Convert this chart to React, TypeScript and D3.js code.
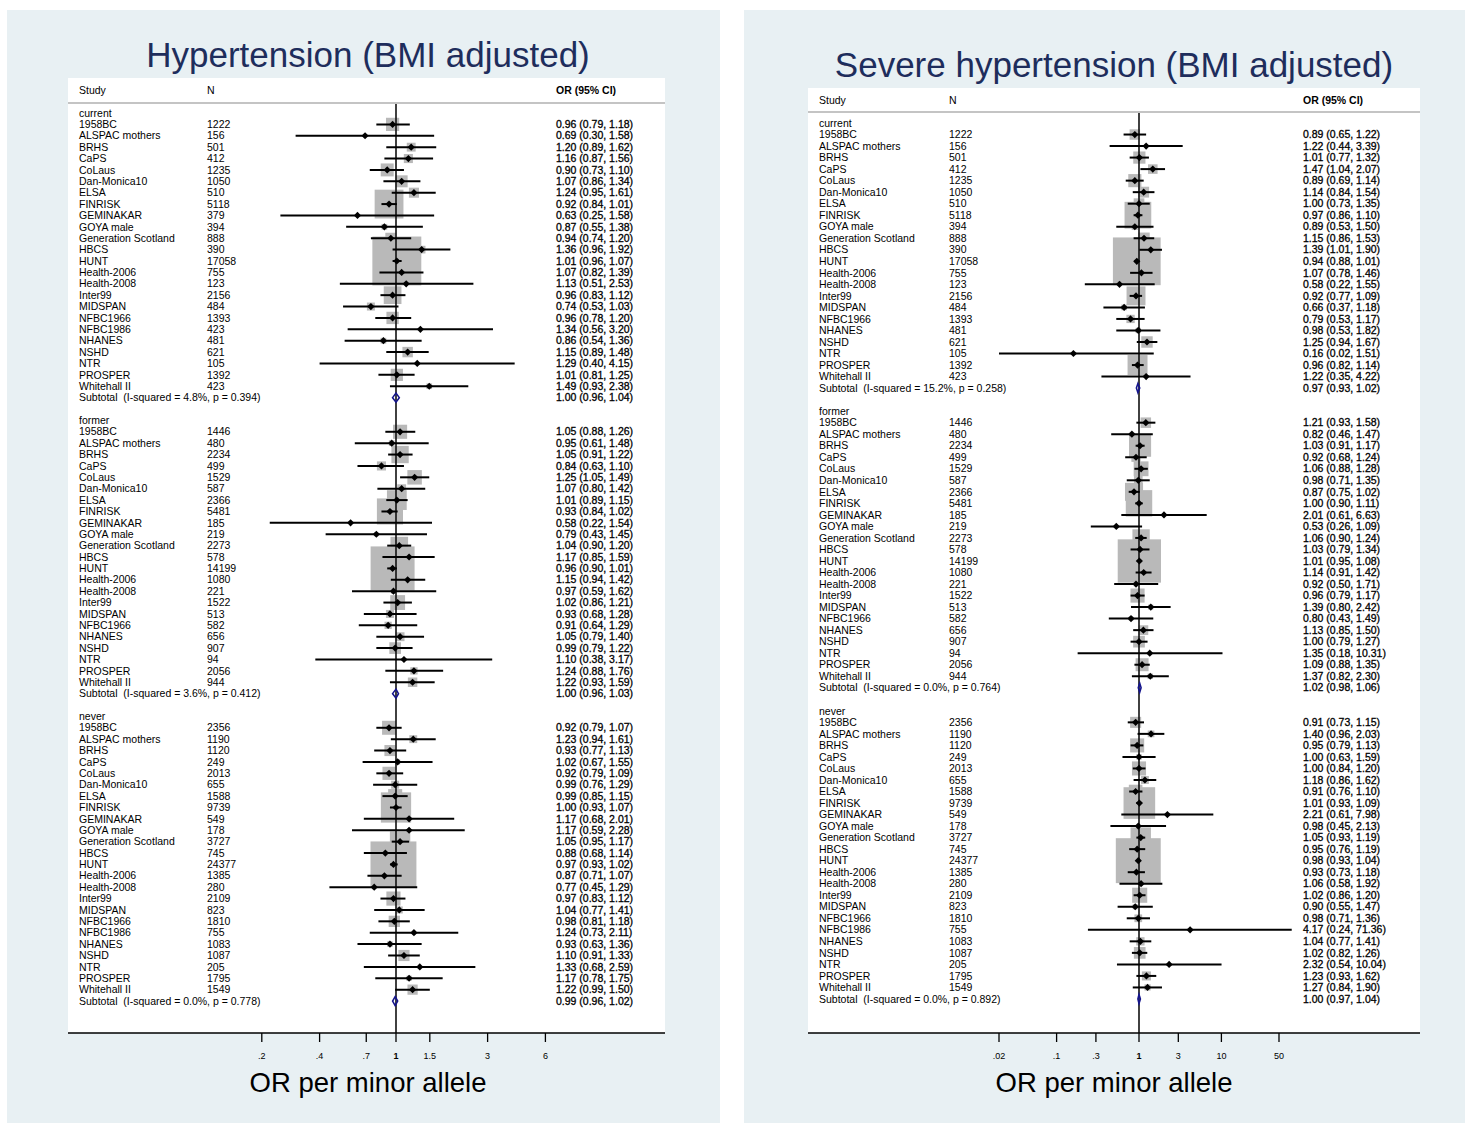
import React from "react";
import * as d3 from "d3";

// ---------- Study name lists ----------
const studiesCurrent = ["1958BC", "ALSPAC mothers", "BRHS", "CaPS", "CoLaus", "Dan-Monica10", "ELSA", "FINRISK", "GEMINAKAR", "GOYA male", "Generation Scotland", "HBCS", "HUNT", "Health-2006", "Health-2008", "Inter99", "MIDSPAN", "NFBC1966", "NFBC1986", "NHANES", "NSHD", "NTR", "PROSPER", "Whitehall II"];
const studiesFormer = ["1958BC", "ALSPAC mothers", "BRHS", "CaPS", "CoLaus", "Dan-Monica10", "ELSA", "FINRISK", "GEMINAKAR", "GOYA male", "Generation Scotland", "HBCS", "HUNT", "Health-2006", "Health-2008", "Inter99", "MIDSPAN", "NFBC1966", "NHANES", "NSHD", "NTR", "PROSPER", "Whitehall II"];
const studiesNever = ["1958BC", "ALSPAC mothers", "BRHS", "CaPS", "CoLaus", "Dan-Monica10", "ELSA", "FINRISK", "GEMINAKAR", "GOYA male", "Generation Scotland", "HBCS", "HUNT", "Health-2006", "Health-2008", "Inter99", "MIDSPAN", "NFBC1966", "NFBC1986", "NHANES", "NSHD", "NTR", "PROSPER", "Whitehall II"];
const studiesSevereCurrent = ["1958BC", "ALSPAC mothers", "BRHS", "CaPS", "CoLaus", "Dan-Monica10", "ELSA", "FINRISK", "GOYA male", "Generation Scotland", "HBCS", "HUNT", "Health-2006", "Health-2008", "Inter99", "MIDSPAN", "NFBC1966", "NHANES", "NSHD", "NTR", "PROSPER", "Whitehall II"];

const groupLabels = ["current", "former", "never"];

// ---------- Hypertension (BMI adjusted) ----------
const hypCurrentN = [1222, 156, 501, 412, 1235, 1050, 510, 5118, 379, 394, 888, 390, 17058, 755, 123, 2156, 484, 1393, 423, 481, 621, 105, 1392, 423];
const hypCurrentOR = [0.96, 0.69, 1.20, 1.16, 0.90, 1.07, 1.24, 0.92, 0.63, 0.87, 0.94, 1.36, 1.01, 1.07, 1.13, 0.96, 0.74, 0.96, 1.34, 0.86, 1.15, 1.29, 1.01, 1.49];
const hypCurrentLo = [0.79, 0.30, 0.89, 0.87, 0.73, 0.86, 0.95, 0.84, 0.25, 0.55, 0.74, 0.96, 0.96, 0.82, 0.51, 0.83, 0.53, 0.78, 0.56, 0.54, 0.89, 0.40, 0.81, 0.93];
const hypCurrentHi = [1.18, 1.58, 1.62, 1.56, 1.10, 1.34, 1.61, 1.01, 1.58, 1.38, 1.20, 1.92, 1.07, 1.39, 2.53, 1.12, 1.03, 1.20, 3.20, 1.36, 1.48, 4.15, 1.25, 2.38];

const hypFormerN = [1446, 480, 2234, 499, 1529, 587, 2366, 5481, 185, 219, 2273, 578, 14199, 1080, 221, 1522, 513, 582, 656, 907, 94, 2056, 944];
const hypFormerOR = [1.05, 0.95, 1.05, 0.84, 1.25, 1.07, 1.01, 0.93, 0.58, 0.79, 1.04, 1.17, 0.96, 1.15, 0.97, 1.02, 0.93, 0.91, 1.05, 0.99, 1.10, 1.24, 1.22];
const hypFormerLo = [0.88, 0.61, 0.91, 0.63, 1.05, 0.80, 0.89, 0.84, 0.22, 0.43, 0.90, 0.85, 0.90, 0.94, 0.59, 0.86, 0.68, 0.64, 0.79, 0.79, 0.38, 0.88, 0.93];
const hypFormerHi = [1.26, 1.48, 1.22, 1.10, 1.49, 1.42, 1.15, 1.02, 1.54, 1.45, 1.20, 1.59, 1.01, 1.42, 1.62, 1.21, 1.28, 1.29, 1.40, 1.22, 3.17, 1.76, 1.59];

const hypNeverN = [2356, 1190, 1120, 249, 2013, 655, 1588, 9739, 549, 178, 3727, 745, 24377, 1385, 280, 2109, 823, 1810, 755, 1083, 1087, 205, 1795, 1549];
const hypNeverOR = [0.92, 1.23, 0.93, 1.02, 0.92, 0.99, 0.99, 1.00, 1.17, 1.17, 1.05, 0.88, 0.97, 0.87, 0.77, 0.97, 1.04, 0.98, 1.24, 0.93, 1.10, 1.33, 1.17, 1.22];
const hypNeverLo = [0.79, 0.94, 0.77, 0.67, 0.79, 0.76, 0.85, 0.93, 0.68, 0.59, 0.95, 0.68, 0.93, 0.71, 0.45, 0.83, 0.77, 0.81, 0.73, 0.63, 0.91, 0.68, 0.78, 0.99];
const hypNeverHi = [1.07, 1.61, 1.13, 1.55, 1.09, 1.29, 1.15, 1.07, 2.01, 2.28, 1.17, 1.14, 1.02, 1.07, 1.29, 1.12, 1.41, 1.18, 2.11, 1.36, 1.33, 2.59, 1.75, 1.50];

const hypSubOR = [1.00, 1.00, 0.99];
const hypSubLo = [0.96, 0.96, 0.96];
const hypSubHi = [1.04, 1.03, 1.02];
const hypSubLabel = ["Subtotal  (I-squared = 4.8%, p = 0.394)", "Subtotal  (I-squared = 3.6%, p = 0.412)", "Subtotal  (I-squared = 0.0%, p = 0.778)"];

// ---------- Severe hypertension (BMI adjusted) ----------
const sevCurrentN = [1222, 156, 501, 412, 1235, 1050, 510, 5118, 394, 888, 390, 17058, 755, 123, 2156, 484, 1393, 481, 621, 105, 1392, 423];
const sevCurrentOR = [0.89, 1.22, 1.01, 1.47, 0.89, 1.14, 1.00, 0.97, 0.89, 1.15, 1.39, 0.94, 1.07, 0.58, 0.92, 0.66, 0.79, 0.98, 1.25, 0.16, 0.96, 1.22];
const sevCurrentLo = [0.65, 0.44, 0.77, 1.04, 0.69, 0.84, 0.73, 0.86, 0.53, 0.86, 1.01, 0.88, 0.78, 0.22, 0.77, 0.37, 0.53, 0.53, 0.94, 0.02, 0.82, 0.35];
const sevCurrentHi = [1.22, 3.39, 1.32, 2.07, 1.14, 1.54, 1.35, 1.10, 1.50, 1.53, 1.90, 1.01, 1.46, 1.55, 1.09, 1.18, 1.17, 1.82, 1.67, 1.51, 1.14, 4.22];

const sevFormerN = [1446, 480, 2234, 499, 1529, 587, 2366, 5481, 185, 219, 2273, 578, 14199, 1080, 221, 1522, 513, 582, 656, 907, 94, 2056, 944];
const sevFormerOR = [1.21, 0.82, 1.03, 0.92, 1.06, 0.98, 0.87, 1.00, 2.01, 0.53, 1.06, 1.03, 1.01, 1.14, 0.92, 0.96, 1.39, 0.80, 1.13, 1.00, 1.35, 1.09, 1.37];
const sevFormerLo = [0.93, 0.46, 0.91, 0.68, 0.88, 0.71, 0.75, 0.90, 0.61, 0.26, 0.90, 0.79, 0.95, 0.91, 0.50, 0.79, 0.80, 0.43, 0.85, 0.79, 0.18, 0.88, 0.82];
const sevFormerHi = [1.58, 1.47, 1.17, 1.24, 1.28, 1.35, 1.02, 1.11, 6.63, 1.09, 1.24, 1.34, 1.08, 1.42, 1.71, 1.17, 2.42, 1.49, 1.50, 1.27, 10.31, 1.35, 2.30];

const sevNeverN = [2356, 1190, 1120, 249, 2013, 655, 1588, 9739, 549, 178, 3727, 745, 24377, 1385, 280, 2109, 823, 1810, 755, 1083, 1087, 205, 1795, 1549];
const sevNeverOR = [0.91, 1.40, 0.95, 1.00, 1.00, 1.18, 0.91, 1.01, 2.21, 0.98, 1.05, 0.95, 0.98, 0.93, 1.06, 1.02, 0.90, 0.98, 4.17, 1.04, 1.02, 2.32, 1.23, 1.27];
const sevNeverLo = [0.73, 0.96, 0.79, 0.63, 0.84, 0.86, 0.76, 0.93, 0.61, 0.45, 0.93, 0.76, 0.93, 0.73, 0.58, 0.86, 0.55, 0.71, 0.24, 0.77, 0.82, 0.54, 0.93, 0.84];
const sevNeverHi = [1.15, 2.03, 1.13, 1.59, 1.20, 1.62, 1.10, 1.09, 7.98, 2.13, 1.19, 1.19, 1.04, 1.18, 1.92, 1.20, 1.47, 1.36, 71.36, 1.41, 1.26, 10.04, 1.62, 1.90];

const sevSubOR = [0.97, 1.02, 1.00];
const sevSubLo = [0.93, 0.98, 0.97];
const sevSubHi = [1.02, 1.06, 1.04];
const sevSubLabel = ["Subtotal  (I-squared = 15.2%, p = 0.258)", "Subtotal  (I-squared = 0.0%, p = 0.764)", "Subtotal  (I-squared = 0.0%, p = 0.892)"];

// ---------- Axis ticks ----------
const hypTicks = [0.2, 0.4, 0.7, 1, 1.5, 3, 6];
const hypTickLabels = [".2", ".4", ".7", "1", "1.5", "3", "6"];
const sevTicks = [0.02, 0.1, 0.3, 1, 3, 10, 50];
const sevTickLabels = [".02", ".1", ".3", "1", "3", "10", "50"];

type Group = {
  label: string;
  names: string[];
  n: number[];
  or: number[];
  lo: number[];
  hi: number[];
  subOR: number;
  subLo: number;
  subHi: number;
  subLabel: string;
};

function makeGroups(
  namesList: string[][],
  ns: number[][],
  ors: number[][],
  los: number[][],
  his: number[][],
  sOR: number[],
  sLo: number[],
  sHi: number[],
  sLab: string[]
): Group[] {
  return groupLabels.map((label, i) => ({
    label,
    names: namesList[i],
    n: ns[i],
    or: ors[i],
    lo: los[i],
    hi: his[i],
    subOR: sOR[i],
    subLo: sLo[i],
    subHi: sHi[i],
    subLabel: sLab[i],
  }));
}

const hypGroups = makeGroups(
  [studiesCurrent, studiesFormer, studiesNever],
  [hypCurrentN, hypFormerN, hypNeverN],
  [hypCurrentOR, hypFormerOR, hypNeverOR],
  [hypCurrentLo, hypFormerLo, hypNeverLo],
  [hypCurrentHi, hypFormerHi, hypNeverHi],
  hypSubOR, hypSubLo, hypSubHi, hypSubLabel
);
const sevGroups = makeGroups(
  [studiesSevereCurrent, studiesFormer, studiesNever],
  [sevCurrentN, sevFormerN, sevNeverN],
  [sevCurrentOR, sevFormerOR, sevNeverOR],
  [sevCurrentLo, sevFormerLo, sevNeverLo],
  [sevCurrentHi, sevFormerHi, sevNeverHi],
  sevSubOR, sevSubLo, sevSubHi, sevSubLabel
);

const FONT = "'Liberation Sans', Arial, Helvetica, sans-serif";
const BG = "#e8f0f3";
const TITLE_COLOR = "#1e2d5c";
const BOX_COLOR = "#b9b9b9";
const SUB_COLOR = "#14148c";

type PanelCfg = {
  title: string;
  titleX: number;
  titleY: number;
  bgX: number;
  bgW: number;
  x0: number;
  x1: number;
  plotTop: number;
  axisY: number;
  headerY: number;
  headerLineY: number;
  row0Y: number;
  rowStep: number;
  studyX: number;
  nX: number;
  orX: number;
  oneX: number;
  pxPerDecade: number;
  ticks: number[];
  tickLabels: string[];
  clipMax: number;
};

const fmt = (v: number) => v.toFixed(2);

function Panel({ cfg, groups }: { cfg: PanelCfg; groups: Group[] }) {
  const x = d3
    .scaleLog()
    .domain([0.01, 100])
    .range([cfg.oneX - 2 * cfg.pxPerDecade, cfg.oneX + 2 * cfg.pxPerDecade]);

  // Build the row layout
  type Row =
    | { kind: "label"; text: string; r: number }
    | { kind: "study"; name: string; n: number; or: number; lo: number; hi: number; size: number; r: number }
    | { kind: "sub"; text: string; or: number; lo: number; hi: number; r: number };
  const rows: Row[] = [];
  let r = 0;
  const BOX_K = 72;
  groups.forEach((g) => {
    rows.push({ kind: "label", text: g.label, r: r++ });
    const w = g.or.map((_, i) => {
      const se = (Math.log(g.hi[i]) - Math.log(g.lo[i])) / 3.92;
      return 1 / (se * se);
    });
    const W = d3.sum(w);
    g.names.forEach((name, i) => {
      rows.push({
        kind: "study",
        name,
        n: g.n[i],
        or: g.or[i],
        lo: g.lo[i],
        hi: g.hi[i],
        size: BOX_K * Math.sqrt(w[i] / W),
        r: r++,
      });
    });
    rows.push({ kind: "sub", text: g.subLabel, or: g.subOR, lo: g.subLo, hi: g.subHi, r: r++ });
    r++; // blank row
  });

  const y = d3.scaleLinear().domain([0, 1]).range([cfg.row0Y, cfg.row0Y + cfg.rowStep]);
  const fs = 10.5;

  return (
    <g>
      <rect x={cfg.bgX} y={10} width={cfg.bgW} height={1113} fill={BG} />
      <rect x={cfg.x0} y={cfg.plotTop} width={cfg.x1 - cfg.x0} height={cfg.axisY - cfg.plotTop} fill="#fff" />
      <text x={cfg.titleX} y={cfg.titleY} textAnchor="middle" fontFamily={FONT} fontSize={35} fill={TITLE_COLOR}>
        {cfg.title}
      </text>
      {/* header */}
      <text x={cfg.studyX} y={cfg.headerY} dy="0.35em" fontFamily={FONT} fontSize={fs}>Study</text>
      <text x={cfg.nX} y={cfg.headerY} dy="0.35em" fontFamily={FONT} fontSize={fs}>N</text>
      <text x={cfg.orX} y={cfg.headerY} dy="0.35em" fontFamily={FONT} fontSize={fs} fontWeight="bold">OR (95% CI)</text>
      <line x1={cfg.x0} x2={cfg.x1} y1={cfg.headerLineY} y2={cfg.headerLineY} stroke="#c4c4c4" strokeWidth={2} />
      {/* boxes first */}
      {rows.map((row, i) =>
        row.kind === "study" ? (
          <rect
            key={"b" + i}
            x={x(row.or) - row.size / 2}
            y={y(row.r) - row.size / 2}
            width={row.size}
            height={row.size}
            fill={BOX_COLOR}
          />
        ) : null
      )}
      {/* null line */}
      <line x1={x(1)} x2={x(1)} y1={cfg.headerLineY + 1} y2={cfg.axisY} stroke="#111" strokeWidth={1.6} />
      {/* CIs and points */}
      {rows.map((row, i) => {
        if (row.kind !== "study") return null;
        const yy = y(row.r);
        const clipped = row.hi > cfg.clipMax;
        const xe = x(Math.min(row.hi, cfg.clipMax));
        const xc = x(row.or);
        const d = 3.6;
        return (
          <g key={"c" + i}>
            <line x1={x(row.lo)} x2={clipped ? xe - 6 : xe} y1={yy} y2={yy} stroke="#000" strokeWidth={2} />
            {clipped ? (
              <path d={`M${xe},${yy} L${xe - 9},${yy - 4} L${xe - 9},${yy + 4} Z`} fill="#000" />
            ) : null}
            <path d={`M${xc - d},${yy} L${xc},${yy - d} L${xc + d},${yy} L${xc},${yy + d} Z`} fill="#000" />
          </g>
        );
      })}
      {/* subtotal diamonds */}
      {rows.map((row, i) => {
        if (row.kind !== "sub") return null;
        const yy = y(row.r);
        const h = 4.5;
        return (
          <path
            key={"s" + i}
            d={`M${x(row.lo)},${yy} L${x(row.or)},${yy - h} L${x(row.hi)},${yy} L${x(row.or)},${yy + h} Z`}
            fill="none"
            stroke={SUB_COLOR}
            strokeWidth={1.6}
          />
        );
      })}
      {/* texts */}
      {rows.map((row, i) => {
        const yy = y(row.r);
        if (row.kind === "label")
          return (
            <text key={"t" + i} x={cfg.studyX} y={yy} dy="0.35em" fontFamily={FONT} fontSize={fs}>
              {row.text}
            </text>
          );
        if (row.kind === "study")
          return (
            <g key={"t" + i} fontFamily={FONT} fontSize={fs}>
              <text x={cfg.studyX} y={yy} dy="0.35em">{row.name}</text>
              <text x={cfg.nX} y={yy} dy="0.35em">{row.n}</text>
              <text x={cfg.orX} y={yy} dy="0.35em" stroke="#000" strokeWidth={0.3}>
                {`${fmt(row.or)} (${fmt(row.lo)}, ${fmt(row.hi)})`}
              </text>
            </g>
          );
        return (
          <g key={"t" + i} fontFamily={FONT} fontSize={fs}>
            <text x={cfg.studyX} y={yy} dy="0.35em" style={{ whiteSpace: "pre" }}>{row.text}</text>
            <text x={cfg.orX} y={yy} dy="0.35em" stroke="#000" strokeWidth={0.3}>
              {`${fmt(row.or)} (${fmt(row.lo)}, ${fmt(row.hi)})`}
            </text>
          </g>
        );
      })}
      {/* axis */}
      <line x1={cfg.x0} x2={cfg.x1} y1={cfg.axisY} y2={cfg.axisY} stroke="#000" strokeWidth={1.5} />
      {cfg.ticks.map((t, i) => (
        <g key={"k" + i}>
          <line x1={x(t)} x2={x(t)} y1={cfg.axisY} y2={cfg.axisY + 9} stroke="#000" strokeWidth={1.3} />
          <text
            x={x(t)}
            y={cfg.axisY + 23}
            dy="0.35em"
            textAnchor="middle"
            fontFamily={FONT}
            fontSize={9}
            fontWeight={t === 1 ? "bold" : "normal"}
          >
            {cfg.tickLabels[i]}
          </text>
        </g>
      ))}
      <text x={cfg.titleX} y={1092} textAnchor="middle" fontFamily={FONT} fontSize={27.5} fill="#000">
        OR per minor allele
      </text>
    </g>
  );
}

const hypCfg: PanelCfg = {
  title: "Hypertension (BMI adjusted)",
  titleX: 368,
  titleY: 67,
  bgX: 7,
  bgW: 713,
  x0: 68,
  x1: 665,
  plotTop: 78,
  axisY: 1033,
  headerY: 90,
  headerLineY: 103,
  row0Y: 113,
  rowStep: 11.385,
  studyX: 79,
  nX: 207,
  orX: 556,
  oneX: 396,
  pxPerDecade: 192,
  ticks: hypTicks,
  tickLabels: hypTickLabels,
  clipMax: 1000,
};

const sevCfg: PanelCfg = {
  title: "Severe hypertension (BMI adjusted)",
  titleX: 1114,
  titleY: 77,
  bgX: 744,
  bgW: 721,
  x0: 808,
  x1: 1420,
  plotTop: 88,
  axisY: 1033,
  headerY: 100,
  headerLineY: 112,
  row0Y: 123,
  rowStep: 11.526,
  studyX: 819,
  nX: 949,
  orX: 1303,
  oneX: 1139,
  pxPerDecade: 82.4,
  ticks: sevTicks,
  tickLabels: sevTickLabels,
  clipMax: 74,
};

export default function App() {
  return (
    <svg
      width={1465}
      height={1123}
      style={{ position: "absolute", left: 0, top: 0, display: "block", background: "#fff" }}
    >
      <Panel cfg={hypCfg} groups={hypGroups} />
      <Panel cfg={sevCfg} groups={sevGroups} />
    </svg>
  );
}
